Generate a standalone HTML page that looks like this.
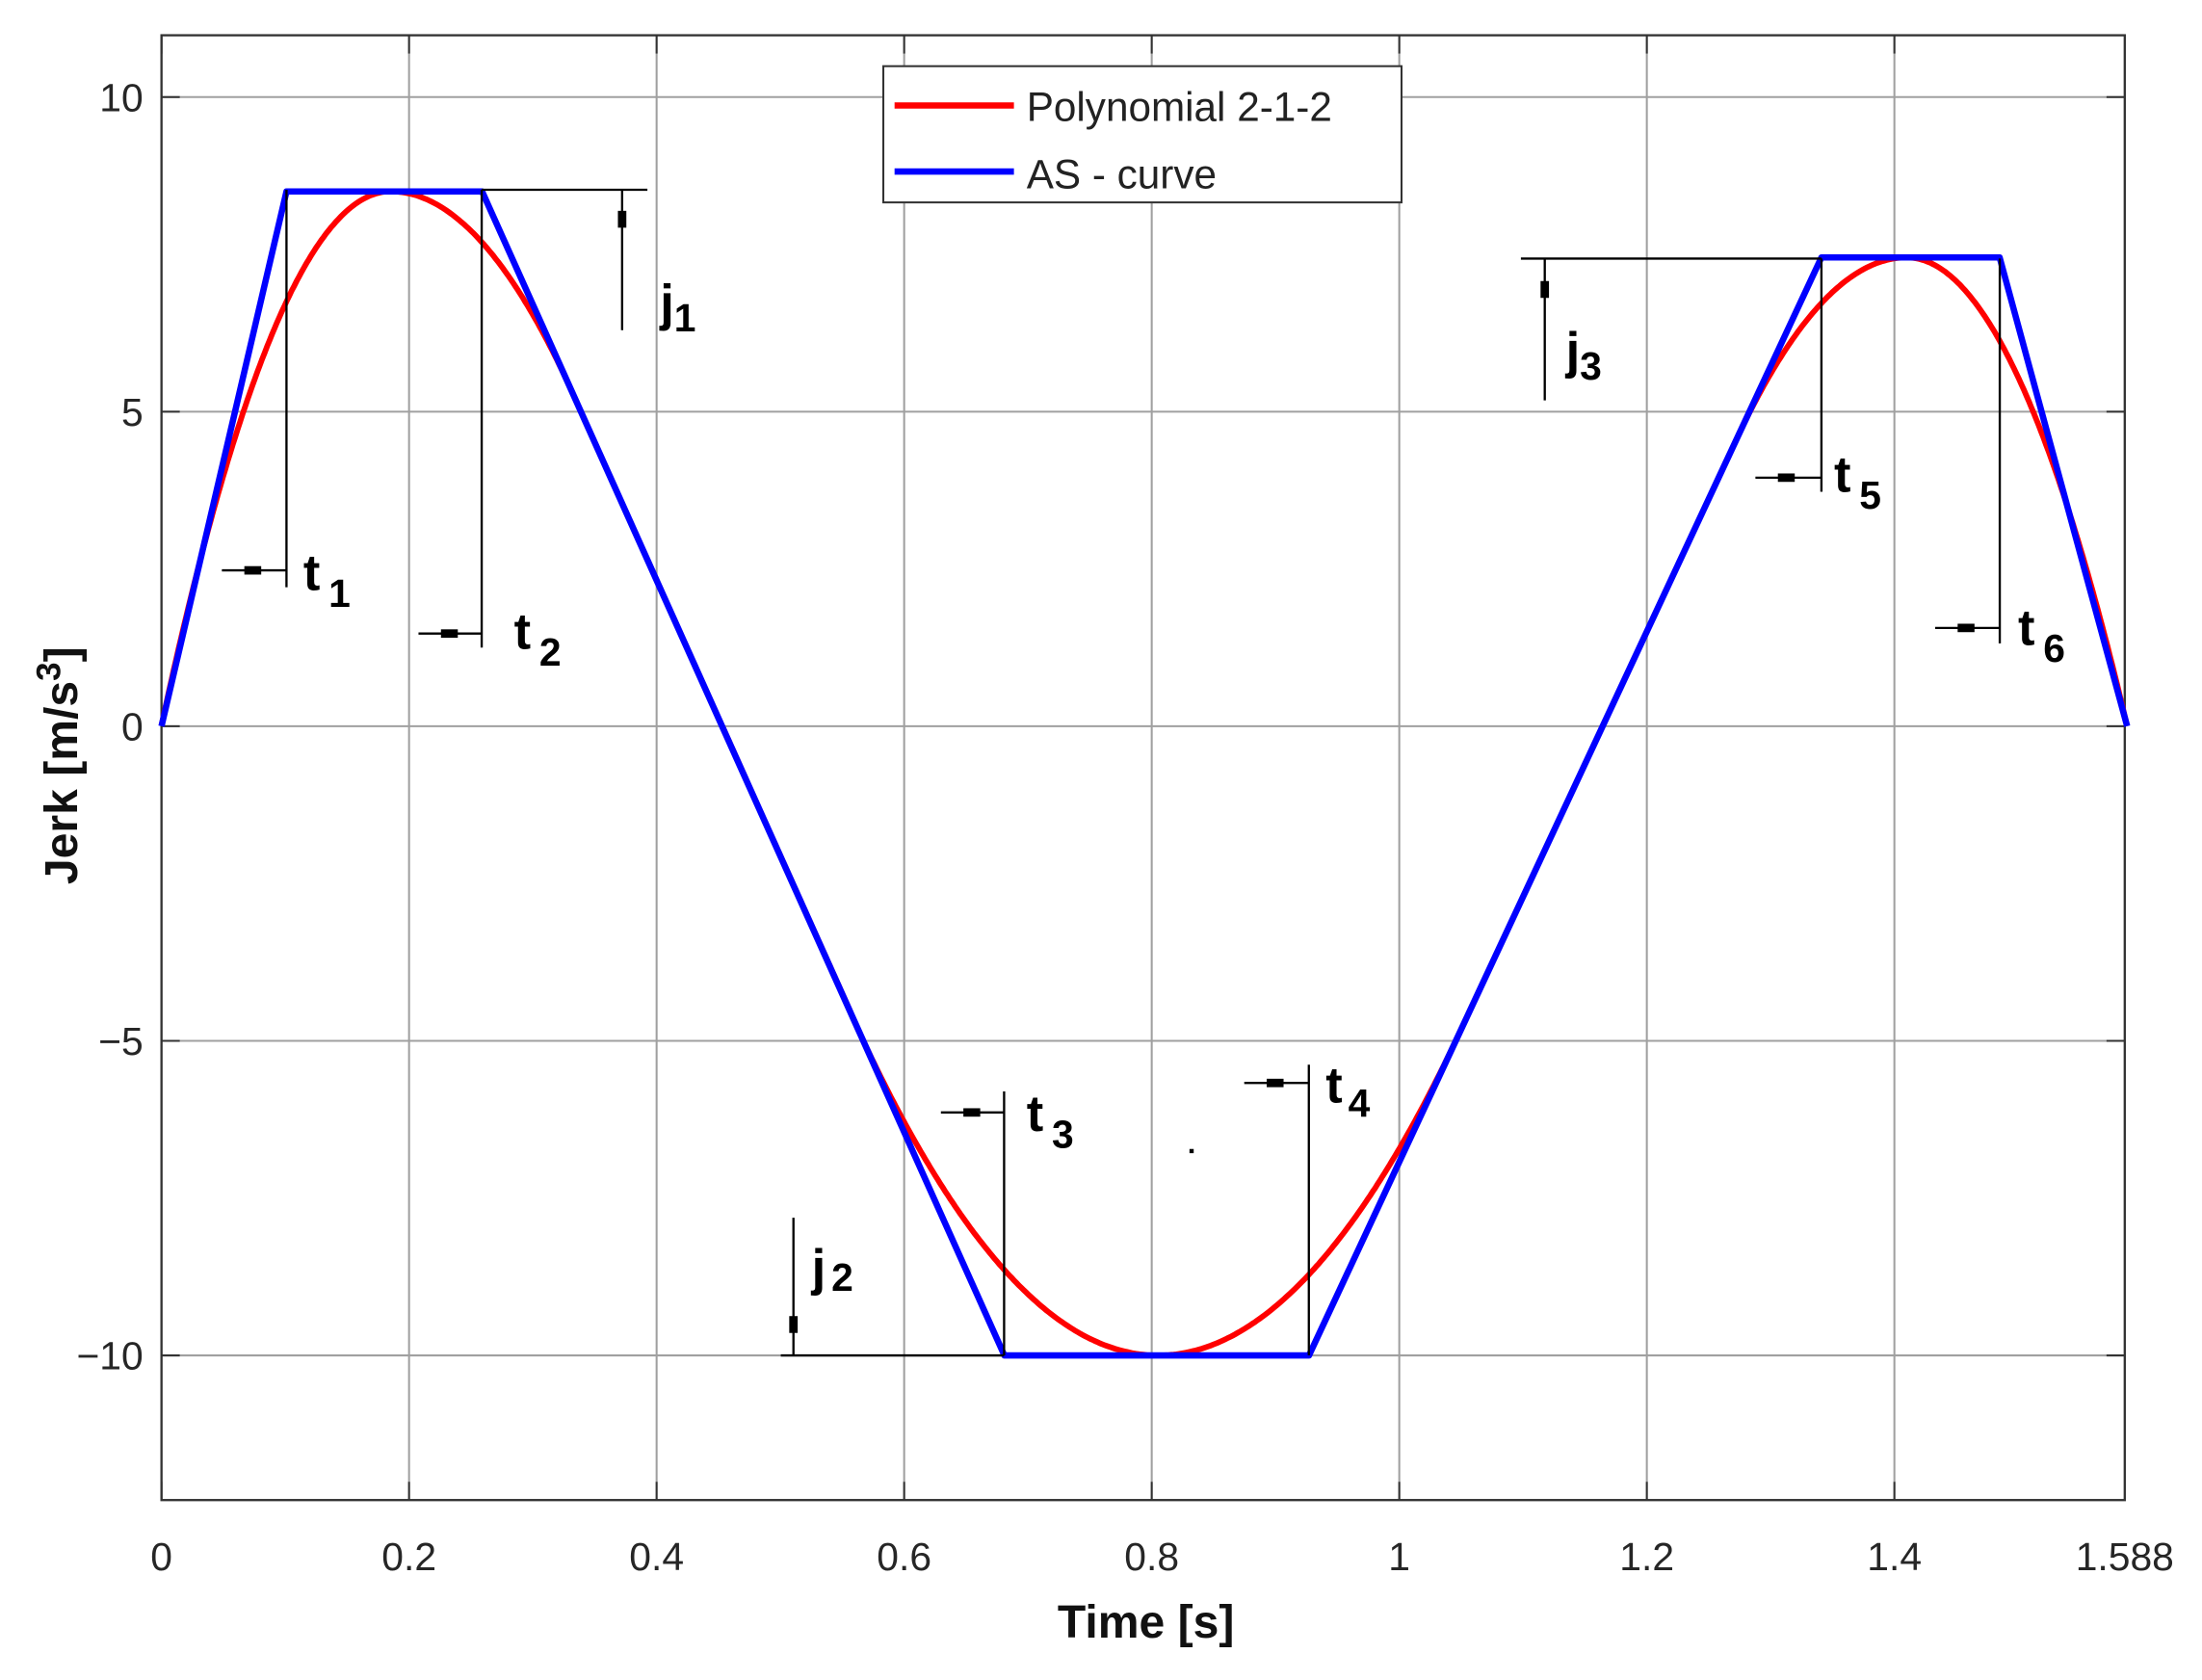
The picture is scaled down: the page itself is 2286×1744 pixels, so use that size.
<!DOCTYPE html>
<html><head><meta charset="utf-8"><style>
html,body{margin:0;padding:0;background:#fff;}
svg{display:block;}
text{font-family:"Liberation Sans",sans-serif;}
</style></head><body>
<svg id="s" width="2286" height="1744" viewBox="0 0 1568 1196" xmlns="http://www.w3.org/2000/svg">
<rect width="1568" height="1196" fill="#fff"/>
<g id="grid" stroke="#a0a0a0" stroke-width="1.4"></g>
<rect x="115" y="25" width="1398" height="1043" fill="none" stroke="#333" stroke-width="1.6"/>
<g id="ticks" stroke="#333" stroke-width="1.4"></g>
<g font-size="28" fill="#262626" id="labels"></g>
<text x="816" y="1166" font-size="33" font-weight="bold" text-anchor="middle" fill="#111">Time [s]</text>
<text transform="translate(55,545) rotate(-90)" font-size="33" font-weight="bold" text-anchor="middle" fill="#111">Jerk [m/s<tspan dy="-12" font-size="24">3</tspan><tspan dy="12">]</tspan></text>
<path id="red" fill="none" stroke="#ff0000" stroke-width="4"/>
<path id="blue" fill="none" stroke="#0000ff" stroke-width="4.5" stroke-linejoin="round"/>
<g stroke="#000" stroke-width="1.6" fill="none">
<path d="M204 135V418 M158 406H204 M343 135V461 M298 451H343 M343 135H461 M443 135V235"/>
<path d="M1083 184H1297 M1100 184V285 M1297 184V350 M1250 340H1297 M1424 184V458 M1378 447H1424"/>
<path d="M715 777V965 M670 792H715 M932 758V965 M886 771H932 M556 965H715 M565 867V965"/>
</g>
<g fill="#000">
<rect x="174" y="403" width="12" height="6"/><rect x="314" y="448" width="12" height="6"/>
<rect x="440" y="150" width="6" height="12"/><rect x="1097" y="200" width="6" height="12"/>
<rect x="1266" y="337" width="12" height="6"/><rect x="1394" y="444" width="12" height="6"/>
<rect x="686" y="789" width="12" height="6"/><rect x="902" y="768" width="12" height="6"/>
<rect x="562" y="937" width="6" height="12"/><rect x="847" y="818" width="3" height="3"/>
</g>
<g font-weight="bold" fill="#000" font-size="36">
<text x="216" y="420">t<tspan dx="6" dy="12" font-size="28">1</tspan></text>
<text x="366" y="462">t<tspan dx="6" dy="12" font-size="28">2</tspan></text>
<text x="731" y="805">t<tspan dx="6" dy="12" font-size="28">3</tspan></text>
<text x="944" y="785">t<tspan dx="4" dy="10" font-size="28">4</tspan></text>
<text x="1306" y="350">t<tspan dx="6" dy="12" font-size="28">5</tspan></text>
<text x="1437" y="459">t<tspan dx="6" dy="12" font-size="28">6</tspan></text>
<text x="470" y="228">j<tspan dy="8" font-size="28">1</tspan></text>
<text x="578" y="915">j<tspan dx="4" dy="4" font-size="28">2</tspan></text>
<text x="1115" y="262">j<tspan dy="8" font-size="28">3</tspan></text>
</g>
<rect x="629" y="47" width="369" height="97" fill="#fff" stroke="#333" stroke-width="1.4"/>
<line x1="637" y1="75" x2="722" y2="75" stroke="#ff0000" stroke-width="4.5"/>
<line x1="637" y1="122" x2="722" y2="122" stroke="#0000ff" stroke-width="4.5"/>
<text x="731" y="86" font-size="29" fill="#222">Polynomial 2-1-2</text>
<text x="731" y="134" font-size="29" fill="#222">AS - curve</text>
</svg>
<script>
var X=function(t){return 115+t*881.4;},Y=function(v){return 517-v*44.8;};
var g=document.getElementById('grid'),tk=document.getElementById('ticks'),lb=document.getElementById('labels');
var ns='http://www.w3.org/2000/svg';
function el(p,n,a,txt){var e=document.createElementNS(ns,n);for(var k in a)e.setAttribute(k,a[k]);if(txt)e.textContent=txt;p.appendChild(e);}
var xs=[0,0.2,0.4,0.6,0.8,1,1.2,1.4];
xs.forEach(function(t){var x=X(t);if(t>0)el(g,'line',{x1:x,y1:25,x2:x,y2:1068});
el(tk,'line',{x1:x,y1:1068,x2:x,y2:1055});el(tk,'line',{x1:x,y1:25,x2:x,y2:38});
el(lb,'text',{x:x,y:1118,'text-anchor':'middle'},String(t));});
el(lb,'text',{x:1513,y:1118,'text-anchor':'middle'},'1.588');
[10,5,0,-5,-10].forEach(function(v){var y=Y(v);el(g,'line',{x1:115,y1:y,x2:1513,y2:y});
el(tk,'line',{x1:115,y1:y,x2:128,y2:y});el(tk,'line',{x1:1513,y1:y,x2:1500,y2:y});
el(lb,'text',{x:102,y:y+10,'text-anchor':'end'},v<0?'\u2212'+(-v):String(v));});
var b=[[0,0],[0.101,8.5],[0.259,8.5],[0.681,-10],[0.927,-10],[1.341,7.45],[1.485,7.45],[1.588,0]];
document.getElementById('blue').setAttribute('d','M'+b.map(function(p){return X(p[0]).toFixed(1)+' '+Y(p[1]).toFixed(1);}).join(' L'));
function r(t){
 if(t<0.185)return 8.5-248*(t-0.185)*(t-0.185);
 if(t<0.333)return 8.5-148*(t-0.185)*(t-0.185);
 if(t<0.557)return 8.5-43.8*(t-0.259);
 if(t<0.805)return -10+88.3*(t-0.805)*(t-0.805);
 if(t<1.049)return -10+86.4*(t-0.805)*(t-0.805);
 if(t<1.272)return 7.45+42.15*(t-1.341);
 if(t<1.41)return 7.45-152.7*(t-1.41)*(t-1.41);
 return 7.45-235*(t-1.41)*(t-1.41);}
var d='';for(var i=0;i<=800;i++){var t=1.588*i/800;d+=(i?'L':'M')+X(t).toFixed(1)+' '+Y(r(t)).toFixed(1)+' ';}
document.getElementById('red').setAttribute('d',d);
</script>
</body></html>
